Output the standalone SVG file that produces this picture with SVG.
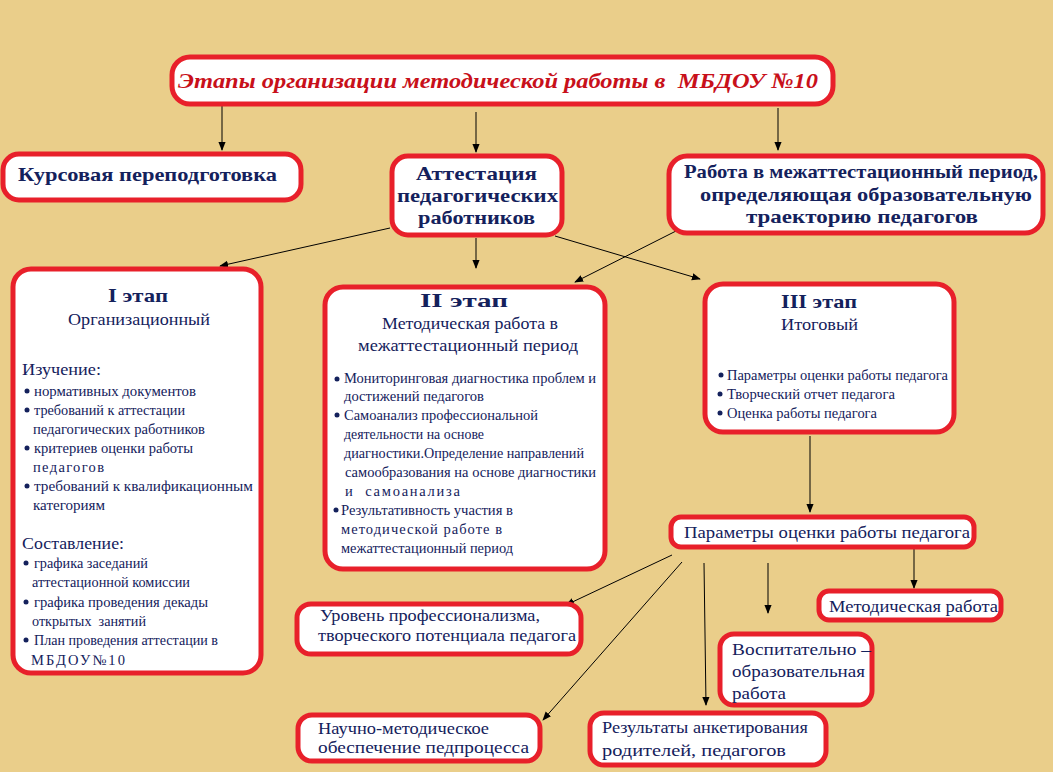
<svg xmlns="http://www.w3.org/2000/svg" width="1053" height="772" viewBox="0 0 1053 772">
<style>
text{white-space:pre}
.box{fill:#fff;stroke:#E8202A;stroke-width:5}
.t{font-family:"Liberation Serif","Times New Roman","DejaVu Serif",serif;fill:#14215C}
.h{font-size:19px;font-weight:bold}
.s{font-size:17px}
.b{font-size:14.5px}
.m{font-size:17px}
.ttl{font-family:"Liberation Serif","Times New Roman","DejaVu Serif",serif;font-size:22px;font-style:italic;font-weight:bold;fill:#C8101A}
.c line{stroke:#000;stroke-width:1;marker-end:url(#ah)}
.dot{fill:#14215C}
</style>
<defs>
<marker id="ah" viewBox="0 0 10 10" refX="9" refY="5" markerWidth="9" markerHeight="9" markerUnits="userSpaceOnUse" orient="auto">
<path d="M0,1 L10,5 L0,9 z" fill="#000"/>
</marker>
</defs>
<rect width="1053" height="772" fill="#EACE8A"/>

<g class="c" id="connectors">
<line x1="222" y1="106" x2="222" y2="150"/>
<line x1="476" y1="112" x2="476" y2="152"/>
<line x1="778" y1="108" x2="778" y2="150"/>
<line x1="390" y1="228" x2="220" y2="266"/>
<line x1="476" y1="238" x2="476" y2="268"/>
<line x1="555" y1="236" x2="700" y2="279"/>
<line x1="678" y1="230" x2="575" y2="282"/>
<line x1="810" y1="436" x2="810" y2="512"/>
<line x1="672" y1="555" x2="566" y2="605"/>
<line x1="682" y1="562" x2="543" y2="720"/>
<line x1="704" y1="563" x2="706" y2="705"/>
<line x1="768" y1="563" x2="768" y2="613"/>
<line x1="914" y1="547" x2="914" y2="588"/>
</g>

<g id="title">
<rect class="box" x="172" y="57" width="661" height="47" rx="18"/>
<text class="ttl" x="178" y="88" textLength="640" lengthAdjust="spacingAndGlyphs">Этапы организации методической работы в  МБДОУ №10</text>
</g>

<g id="kursovaya">
<rect class="box" x="3" y="154" width="298" height="46" rx="16"/>
<text class="t h" x="18" y="181" textLength="259" lengthAdjust="spacingAndGlyphs">Курсовая переподготовка</text>
</g>

<g id="attestation">
<rect class="box" x="392" y="156" width="170" height="79" rx="16"/>
<text class="t h" x="416" y="180" textLength="121" lengthAdjust="spacingAndGlyphs">Аттестация</text>
<text class="t h" x="397" y="202" textLength="161" lengthAdjust="spacingAndGlyphs">педагогических</text>
<text class="t h" x="418" y="224" textLength="117" lengthAdjust="spacingAndGlyphs">работников</text>
</g>

<g id="mezhattest">
<rect class="box" x="669" y="156" width="374" height="77" rx="18"/>
<text class="t h" x="684" y="178" textLength="354" lengthAdjust="spacingAndGlyphs">Работа в межаттестационный период,</text>
<text class="t h" x="700" y="201" textLength="332" lengthAdjust="spacingAndGlyphs">определяющая образовательную</text>
<text class="t h" x="746" y="223" textLength="232" lengthAdjust="spacingAndGlyphs">траекторию педагогов</text>
</g>

<g id="stage1">
<rect class="box" x="13" y="269" width="248" height="404" rx="18"/>
<text class="t" x="108" y="302" font-size="19" font-weight="bold" textLength="60" lengthAdjust="spacingAndGlyphs">I этап</text>
<text class="t s" x="68" y="325" textLength="142" lengthAdjust="spacingAndGlyphs">Организационный</text>
<text class="t s" x="22" y="375" textLength="79" lengthAdjust="spacingAndGlyphs">Изучение:</text>
<circle class="dot" cx="27" cy="391" r="2.5"/>
<text class="t b" x="34" y="396" textLength="162" lengthAdjust="spacingAndGlyphs">нормативных документов</text>
<circle class="dot" cx="27" cy="410" r="2.5"/>
<text class="t b" x="34" y="415" textLength="151" lengthAdjust="spacingAndGlyphs">требований к аттестации</text>
<text class="t b" x="33" y="434" textLength="172" lengthAdjust="spacingAndGlyphs">педагогических работников</text>
<circle class="dot" cx="27" cy="448" r="2.5"/>
<text class="t b" x="34" y="453" textLength="159" lengthAdjust="spacingAndGlyphs">критериев оценки работы</text>
<text class="t b" x="33" y="472" textLength="71" lengthAdjust="spacing">педагогов</text>
<circle class="dot" cx="27" cy="486" r="2.5"/>
<text class="t b" x="34" y="491" textLength="219" lengthAdjust="spacingAndGlyphs">требований к квалификационным</text>
<text class="t b" x="33" y="510" textLength="72" lengthAdjust="spacingAndGlyphs">категориям</text>
<text class="t s" x="22" y="549" textLength="102" lengthAdjust="spacingAndGlyphs">Составление:</text>
<circle class="dot" cx="26" cy="563" r="2.5"/>
<text class="t b" x="34" y="568" textLength="114" lengthAdjust="spacingAndGlyphs">графика заседаний</text>
<text class="t b" x="32" y="587" textLength="158" lengthAdjust="spacingAndGlyphs">аттестационной комиссии</text>
<circle class="dot" cx="26" cy="602" r="2.5"/>
<text class="t b" x="34" y="607" textLength="174" lengthAdjust="spacingAndGlyphs">графика проведения декады</text>
<text class="t b" x="32" y="626" textLength="114" lengthAdjust="spacingAndGlyphs">открытых  занятий</text>
<circle class="dot" cx="26" cy="640" r="2.5"/>
<text class="t b" x="34" y="645" textLength="184" lengthAdjust="spacingAndGlyphs">План проведения аттестации в</text>
<text class="t b" x="31" y="665" textLength="94" lengthAdjust="spacing">МБДОУ№10</text>
</g>

<g id="stage2">
<rect class="box" x="325" y="287" width="280" height="282" rx="18"/>
<text class="t" x="420" y="307" font-size="19" font-weight="bold" textLength="88" lengthAdjust="spacingAndGlyphs">II этап</text>
<text class="t s" x="382" y="329" textLength="176" lengthAdjust="spacingAndGlyphs">Методическая работа в</text>
<text class="t s" x="358" y="351" textLength="220" lengthAdjust="spacingAndGlyphs">межаттестационный период</text>
<circle class="dot" cx="337" cy="379" r="2.5"/>
<text class="t b" x="344" y="383" textLength="252" lengthAdjust="spacingAndGlyphs">Мониторинговая диагностика проблем и</text>
<text class="t b" x="344" y="401" textLength="140" lengthAdjust="spacingAndGlyphs">достижений педагогов</text>
<circle class="dot" cx="337" cy="415" r="2.5"/>
<text class="t b" x="344" y="420" textLength="194" lengthAdjust="spacingAndGlyphs">Самоанализ профессиональной</text>
<text class="t b" x="344" y="439" textLength="140" lengthAdjust="spacingAndGlyphs">деятельности на основе</text>
<text class="t b" x="344" y="458" textLength="240" lengthAdjust="spacingAndGlyphs">диагностики.Определение направлений</text>
<text class="t b" x="345" y="477" textLength="251" lengthAdjust="spacingAndGlyphs">самообразования на основе диагностики</text>
<text class="t b" x="345" y="496" textLength="115" lengthAdjust="spacing">и  самоанализа</text>
<circle class="dot" cx="336" cy="510" r="2.5"/>
<text class="t b" x="341" y="515" textLength="172" lengthAdjust="spacingAndGlyphs">Результативность участия в</text>
<text class="t b" x="341" y="534" textLength="161" lengthAdjust="spacing">методической работе в</text>
<text class="t b" x="341" y="553" textLength="172" lengthAdjust="spacingAndGlyphs">межаттестационный период</text>
</g>

<g id="stage3">
<rect class="box" x="705" y="284" width="249" height="148" rx="18"/>
<text class="t" x="781" y="308" font-size="19" font-weight="bold" textLength="76" lengthAdjust="spacingAndGlyphs">III этап</text>
<text class="t s" x="781" y="330" textLength="77" lengthAdjust="spacingAndGlyphs">Итоговый</text>
<circle class="dot" cx="721" cy="375" r="2.5"/>
<text class="t b" x="727" y="380" textLength="221" lengthAdjust="spacingAndGlyphs">Параметры оценки работы педагога</text>
<circle class="dot" cx="720" cy="394" r="2.5"/>
<text class="t b" x="727" y="399" textLength="168" lengthAdjust="spacingAndGlyphs">Творческий отчет педагога</text>
<circle class="dot" cx="720" cy="413" r="2.5"/>
<text class="t b" x="727" y="418" textLength="150" lengthAdjust="spacingAndGlyphs">Оценка работы педагога</text>
</g>

<g id="params">
<rect class="box" x="671" y="517" width="303" height="30" rx="10"/>
<text class="t m" x="684" y="538" textLength="286" lengthAdjust="spacingAndGlyphs">Параметры оценки работы педагога</text>
</g>

<g id="uroven">
<rect class="box" x="297" y="604" width="284" height="50" rx="14"/>
<text class="t m" x="320" y="621" textLength="220" lengthAdjust="spacingAndGlyphs">Уровень профессионализма,</text>
<text class="t m" x="318" y="641" textLength="258" lengthAdjust="spacingAndGlyphs">творческого потенциала педагога</text>
</g>

<g id="metodrabota">
<rect class="box" x="819" y="591" width="182" height="29" rx="10"/>
<text class="t m" x="829" y="612" textLength="169" lengthAdjust="spacingAndGlyphs">Методическая работа</text>
</g>

<g id="vospit">
<rect class="box" x="720" y="634" width="152" height="71" rx="14"/>
<text class="t m" x="732" y="655" textLength="139" lengthAdjust="spacingAndGlyphs">Воспитательно –</text>
<text class="t m" x="732" y="677" textLength="133" lengthAdjust="spacingAndGlyphs">образовательная</text>
<text class="t m" x="732" y="699" textLength="54" lengthAdjust="spacingAndGlyphs">работа</text>
</g>

<g id="nauchno">
<rect class="box" x="298" y="715" width="242" height="46" rx="14"/>
<text class="t m" x="318" y="734" textLength="171" lengthAdjust="spacingAndGlyphs">Научно-методическое</text>
<text class="t m" x="318" y="753" textLength="211" lengthAdjust="spacingAndGlyphs">обеспечение педпроцесса</text>
</g>

<g id="anketa">
<rect class="box" x="590" y="713" width="236" height="52" rx="14"/>
<text class="t m" x="602" y="733" textLength="206" lengthAdjust="spacingAndGlyphs">Результаты анкетирования</text>
<text class="t m" x="602" y="756" textLength="184" lengthAdjust="spacingAndGlyphs">родителей, педагогов</text>
</g>
</svg>
